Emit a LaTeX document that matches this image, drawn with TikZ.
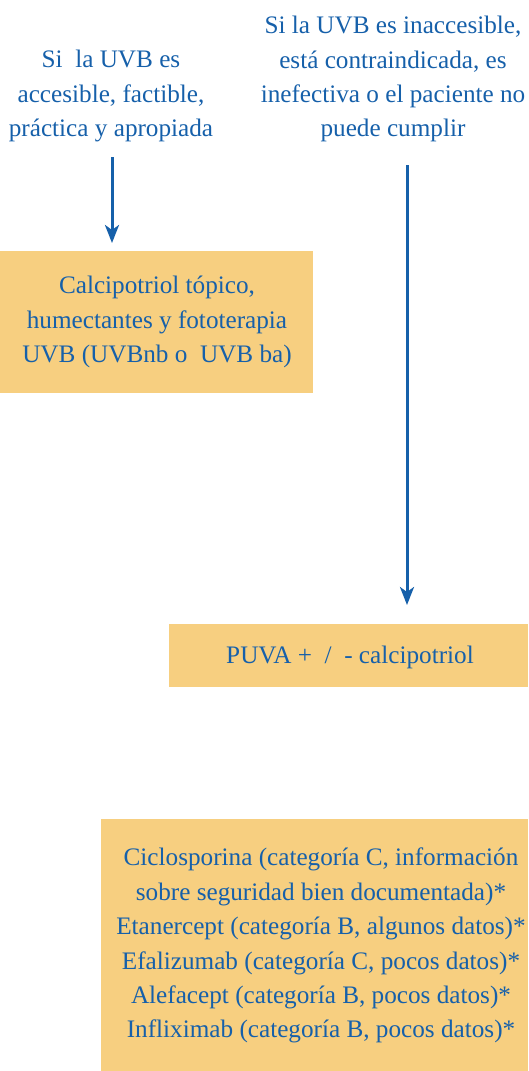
\documentclass[tikz,border=0pt]{standalone}
\usepackage{fontspec}
\setmainfont{Liberation Serif}
\usetikzlibrary{arrows.meta}
\definecolor{txtblue}{RGB}{22,96,170}
\definecolor{boxfill}{RGB}{247,207,128}
\tikzset{
  lbl/.style={align=center, inner sep=0pt, text=txtblue, font=\fontsize{25.2}{34.4}\selectfont},
  box/.style={fill=boxfill, draw=none, inner sep=0pt, anchor=north west},
  arr/.style={draw=txtblue, line width=3pt, -{Stealth[length=18pt,width=14pt,inset=5pt]}},
}
\begin{document}
\begin{tikzpicture}[x=1pt,y=-1pt]
\useasboundingbox (0,0) rectangle (528,1071);
% text conditions
\node[lbl, anchor=north] (lt) at (111,50) {Si\ \ la UVB es\\accesible, factible,\\práctica y apropiada};
\node[lbl, anchor=north] (rt) at (393,16) {Si la UVB es inaccesible,\\está contraindicada, es\\inefectiva o el paciente no\\puede cumplir};
% boxes
\node[box, minimum width=313pt, minimum height=142pt] (b1) at (0,251) {};
\node[box, minimum width=359pt, minimum height=63pt] (b2) at (169,624) {};
\node[box, minimum width=427pt, minimum height=252pt] (b3) at (101,819) {};
% box texts
\node[lbl, anchor=north] (t1) at (157,276) {Calcipotriol tópico,\\humectantes y fototerapia\\UVB (UVBnb o\ \ UVB ba)};
\node[lbl, anchor=base] (t2) at (350,663) {PUVA +\ \ /\ \ - calcipotriol};
\node[lbl, anchor=north] (t3) at (321,848) {Ciclosporina (categoría C, información\\sobre seguridad bien documentada)*\\Etanercept (categoría B, algunos datos)*\\Efalizumab (categoría C, pocos datos)*\\Alefacept (categoría B, pocos datos)*\\Infliximab (categoría B, pocos datos)*};
% arrow start points
\coordinate (s1) at (112,157);
\coordinate (s2) at (407,165);
% arrows
\draw[arr, shorten >=8pt] (s1) -- (s1 |- b1.north);
\draw[arr, shorten >=19pt] (s2) -- (s2 |- b2.north);
\end{tikzpicture}
\end{document}
